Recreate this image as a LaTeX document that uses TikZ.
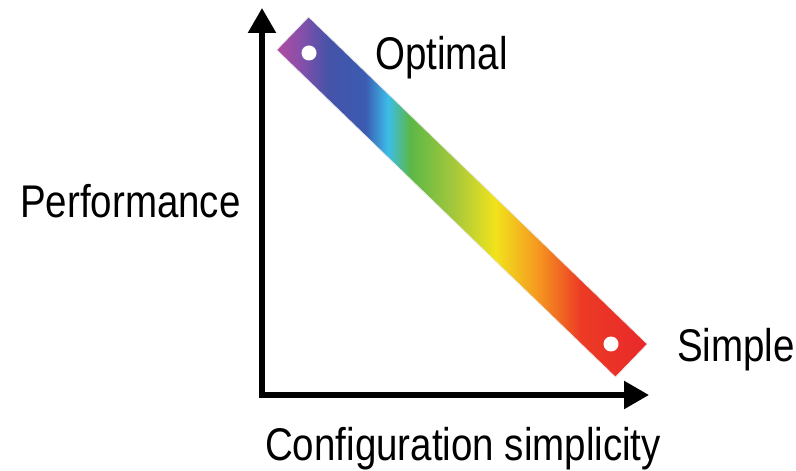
\documentclass[tikz,border=0pt]{standalone}
\usepackage{fontspec}
\setmainfont[FakeStretch=0.84]{Liberation Sans}
\usepackage{xcolor}
\definecolor{magenta}{HTML}{B24C9F}
\definecolor{violet}{HTML}{8A4FAA}
\definecolor{royal}{HTML}{4453A8}
\definecolor{deepblue}{HTML}{3B5CB2}
\definecolor{sky}{HTML}{3CBDE9}
\definecolor{leaf}{HTML}{5BB847}
\definecolor{lime}{HTML}{A6C83B}
\definecolor{lemon}{HTML}{F1E31C}
\definecolor{amber}{HTML}{F59B1F}
\definecolor{scarlet}{HTML}{EC3B25}
\definecolor{crimson}{HTML}{E8282A}
\usepackage{tikz}
\usetikzlibrary{arrows.meta,positioning}
\pgfdeclarehorizontalshading{spectrum}{100bp}{
  color(0bp)=(magenta); color(25bp)=(magenta); color(28bp)=(violet);
  color(32bp)=(royal); color(37bp)=(deepblue); color(40bp)=(sky);
  color(43bp)=(leaf); color(49bp)=(lime); color(54.5bp)=(lemon);
  color(60bp)=(amber); color(66bp)=(scarlet); color(75bp)=(crimson);
  color(100bp)=(crimson)}
\tikzset{
  >={Triangle[length=25bp,width=27bp]},
  axis/.style  ={line width=5.5bp,black},
  band/.style  ={shading=spectrum,draw=black!8,line width=0.8bp,
                 minimum width=471bp,minimum height=46bp,inner sep=0pt},
  dot/.style   ={circle,fill=white,minimum size=15bp,inner sep=0pt},
  lbl/.style   ={font=\fontsize{46}{50}\selectfont,inner sep=0pt,anchor=base west},
}
\begin{document}
\begin{tikzpicture}[x=1bp,y=-1bp]
\useasboundingbox (0,0) rectangle (796,471);
% axes
\coordinate (origin) at (262,395);
\coordinate (ytop)   at (262,8);
\coordinate (xend)   at (649,395);
\draw[axis,<->] (ytop) -- (origin) -- (xend);
% spectrum band
\node[band,rotate=-44] (band) at (462,197) {};
\node[dot] (best)   at (309,53)  {};
\node[dot] (easy)   at (611,344) {};
% labels
\node[lbl] (optimal) at (375,70)  {Optimal};
\node[lbl] (simple)  at (677,362) {Simple};
\node[lbl] (perf)    at (20,218)  {Performance};
\node[lbl] (config)  at (265,460) {Configuration simplicity};
\end{tikzpicture}
\end{document}
